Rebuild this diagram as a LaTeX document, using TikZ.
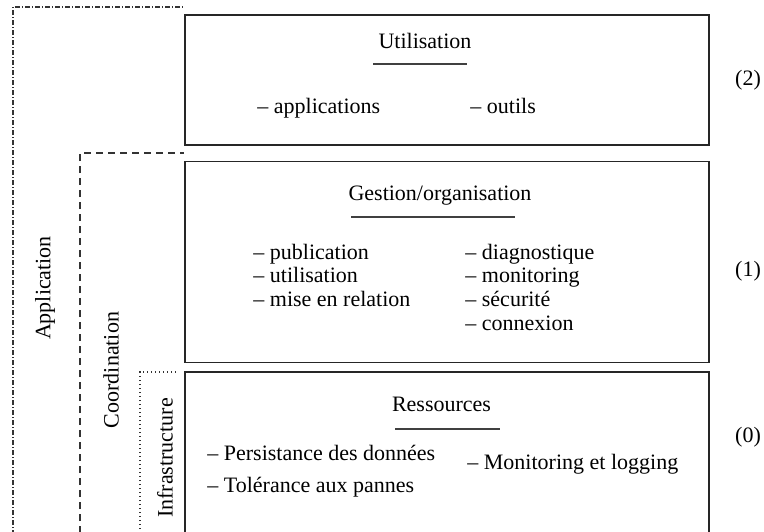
\documentclass[tikz,border=0pt]{standalone}
\usepackage{fontspec}
\setmainfont{Liberation Serif}

\tikzset{
  layer/.style={rectangle, draw=black!85, line width=0.6pt, minimum width=262pt, inner sep=0pt},
  txt/.style={inner sep=0pt, font=\fontsize{11}{12}\selectfont},
  item/.style={txt, anchor=base west},
  title/.style={txt, anchor=base},
  tag/.style={txt, rotate=90},
  rule/.style={draw=black!75, line width=0.6pt},
  appline/.style={draw=black!80, line width=0.7pt, dash pattern=on 2.4pt off 1pt on 0.6pt off 1pt},
  coordline/.style={draw=black!80, line width=0.6pt, dash pattern=on 3.3pt off 2.7pt},
  infraline/.style={draw=black!80, line width=0.6pt, dash pattern=on 0.6pt off 1.4pt}
}

\begin{document}
\begin{tikzpicture}[x=0.5pt, y=-0.5pt]
  \useasboundingbox (0,0) rectangle (764,531);
  \clip (0,0) rectangle (764,531);
  % the three layers
  \node (util) [layer, minimum height=65pt]    at (447,80)    {};
  \node (gest) [layer, minimum height=100.5pt] at (447,262.3) {};
  \node (res)  [layer, minimum height=86pt]    at (447,458)   {};
  % brackets on the left
  \draw[appline]   (13,545) |- (util.west |- 0,7);
  \draw[coordline] (80,545) |- (gest.west |- 0,153);
  \draw[infraline] (140,545) |- (177,372);
  \node (app)   [tag] at (45,288)  {Application};
  \node (coord) [tag] at (111,370) {Coordination};
  \node (infra) [tag] at (165,458) {Infrastructure};
  % (2) Utilisation
  \node (utilT) [title] at (425,48) {Utilisation};
  \draw[rule] (373,64) -- (467,64);
  \node (appl)  [item] at (257,113) {-- applications};
  \node (outl)  [item] at (470,113) {-- outils};
  % (1) Gestion
  \node (gestT) [title] at (440,200) {Gestion/organisation};
  \draw[rule] (351,217) -- (515,217);
  \node (pub)   [item] at (253,259) {-- publication};
  \node (uti)   [item] at (253,282) {-- utilisation};
  \node (mise)  [item] at (253,306) {-- mise en relation};
  \node (diag)  [item] at (465,259) {-- diagnostique};
  \node (moni)  [item] at (465,282) {-- monitoring};
  \node (secu)  [item] at (465,306) {-- sécurité};
  \node (conn)  [item] at (465,330) {-- connexion};
  % (0) Ressources
  \node (resT)  [title] at (441.5,411) {Ressources};
  \draw[rule] (395,429) -- (500,429);
  \node (pers)  [item] at (207,460) {-- Persistance des données};
  \node (tole)  [item] at (207,492) {-- Tolérance aux pannes};
  \node (mlog)  [item] at (467,469) {-- Monitoring et logging};
  % level numbers
  \node (lv2) [txt] at (748,80)  {(2)};
  \node (lv1) [txt] at (748,271) {(1)};
  \node (lv0) [txt] at (748,437) {(0)};
\end{tikzpicture}
\end{document}
